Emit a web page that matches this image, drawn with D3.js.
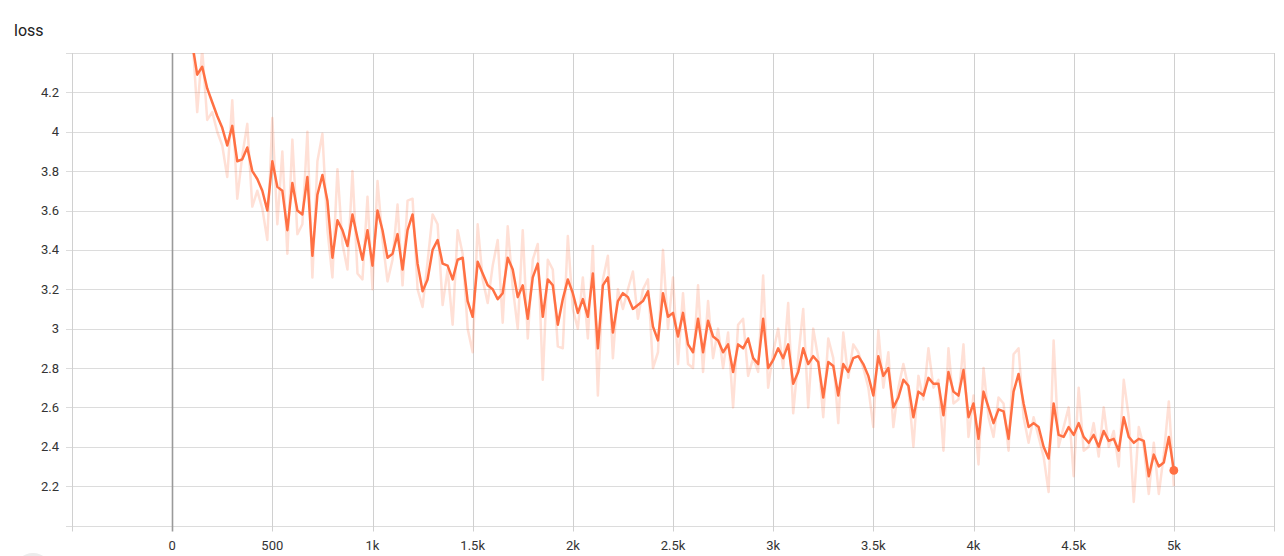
<!DOCTYPE html>
<html>
<head>
<meta charset="utf-8">
<script src="https://cdn.jsdelivr.net/npm/d3@7/dist/d3.min.js"></script>
<style>
  html, body { margin: 0; padding: 0; background: #fff; }
  svg { display: block; font-family: Roboto, "Noto Sans", sans-serif; }
</style>
</head>
<body>
<svg id="chart" width="1284" height="556"></svg>
<script>
// ---- data ----
const title = "loss";
const stepStart = 100, stepEnd = 5000, stepEvery = 25;
const smoothed = [
4.45,4.29,4.33,4.22,4.15,4.08,4.02,3.93,4.03,3.85,3.86,3.92,3.80,3.76,3.70,3.60,
3.85,3.72,3.70,3.50,3.74,3.60,3.58,3.77,3.37,3.68,3.78,3.65,3.36,3.55,3.50,3.42,
3.58,3.46,3.35,3.50,3.32,3.60,3.50,3.36,3.38,3.48,3.30,3.50,3.58,3.33,3.19,3.25,
3.40,3.45,3.33,3.32,3.25,3.35,3.36,3.14,3.06,3.34,3.28,3.22,3.20,3.15,3.18,3.36,
3.30,3.16,3.22,3.05,3.26,3.33,3.06,3.25,3.22,3.02,3.15,3.25,3.18,3.08,3.15,3.06,
3.28,2.90,3.22,3.26,2.98,3.14,3.18,3.16,3.10,3.12,3.14,3.19,3.01,2.94,3.18,3.06,
3.08,2.96,3.08,2.92,2.88,3.05,2.88,3.04,2.96,2.94,2.88,2.92,2.78,2.92,2.90,2.95,
2.85,2.82,3.05,2.80,2.84,2.90,2.85,2.92,2.72,2.78,2.90,2.82,2.86,2.83,2.65,2.83,
2.81,2.66,2.82,2.78,2.85,2.86,2.82,2.76,2.66,2.86,2.76,2.80,2.60,2.65,2.74,2.71,
2.55,2.68,2.66,2.75,2.72,2.72,2.56,2.78,2.68,2.66,2.79,2.55,2.62,2.44,2.68,2.60,
2.52,2.59,2.58,2.44,2.68,2.77,2.62,2.50,2.52,2.50,2.40,2.34,2.62,2.46,2.45,2.50,
2.46,2.52,2.45,2.42,2.46,2.40,2.48,2.43,2.44,2.38,2.55,2.45,2.42,2.44,2.43,2.25,
2.36,2.30,2.32,2.45,2.28
];
const raw = [
4.50,4.10,4.42,4.06,4.10,4.00,3.93,3.77,4.16,3.66,3.88,4.04,3.62,3.70,3.61,3.45,
4.07,3.53,3.90,3.38,3.96,3.48,3.53,4.00,3.26,3.85,3.99,3.50,3.26,3.81,3.43,3.30,
3.80,3.28,3.25,3.67,3.20,3.75,3.45,3.24,3.35,3.63,3.22,3.65,3.66,3.20,3.11,3.34,
3.58,3.53,3.12,3.30,3.02,3.50,3.38,3.00,2.88,3.53,3.25,3.13,3.32,3.45,3.03,3.52,
3.21,3.00,3.50,2.95,3.35,3.43,2.74,3.35,3.30,2.91,2.90,3.47,3.10,3.00,3.26,2.95,
3.42,2.66,3.25,3.37,2.85,3.20,3.10,3.20,3.29,3.05,3.20,3.25,2.80,2.88,3.40,3.00,
3.26,2.82,3.18,2.82,2.80,3.22,2.78,3.14,2.85,3.00,2.80,2.98,2.60,3.02,3.05,2.76,
2.85,2.78,3.27,2.70,2.88,3.00,2.80,3.13,2.57,2.85,3.10,2.60,3.00,2.85,2.55,2.95,
2.85,2.52,2.98,2.75,2.92,2.88,2.80,2.70,2.50,2.99,2.70,2.88,2.50,2.70,2.82,2.70,
2.40,2.76,2.64,2.90,2.70,2.74,2.38,2.90,2.62,2.64,2.92,2.45,2.66,2.31,2.80,2.55,
2.45,2.65,2.62,2.38,2.87,2.90,2.55,2.42,2.55,2.45,2.35,2.17,2.94,2.40,2.50,2.60,
2.25,2.70,2.38,2.40,2.52,2.35,2.60,2.40,2.48,2.30,2.74,2.55,2.12,2.50,2.40,2.16,
2.42,2.16,2.36,2.63,2.20
];
const xTicks = [-500,0,500,1000,1500,2000,2500,3000,3500,4000,4500,5000,5500];
const xTickLabels = ["","0","500","1k","1.5k","2k","2.5k","3k","3.5k","4k","4.5k","5k",""];
const yTicks = [2.0,2.2,2.4,2.6,2.8,3.0,3.2,3.4,3.6,3.8,4.0,4.2,4.4];
const yTickLabels = ["","2.2","2.4","2.6","2.8","3","3.2","3.4","3.6","3.8","4","4.2",""];

// ---- drawing ----
(function () {
const steps = d3.range(stepStart, stepEnd + 1, stepEvery);
const n = Math.min(steps.length, smoothed.length, raw.length);
const rawPts = d3.range(n).map(i => ({s: steps[i], v: raw[i]}));
const smPts = d3.range(n).map(i => ({s: steps[i], v: smoothed[i]}));

const svg = d3.select("#chart");
const pLeft = 72, pRight = 1274, pTop = 53, pBottom = 525.5;
const x = d3.scaleLinear().domain([-500, 5500]).range([pLeft, pRight]);
const y = d3.scaleLinear().domain([2.0, 4.4]).range([pBottom, pTop]);

svg.append("text").attr("x", 14).attr("y", 36)
  .attr("font-size", 16).attr("fill", "#212121").text(title);

// horizontal grid
svg.append("g").selectAll("line").data(yTicks).join("line")
  .attr("x1", 66).attr("x2", pRight)
  .attr("y1", d => Math.round(y(d)) + 0.5).attr("y2", d => Math.round(y(d)) + 0.5)
  .attr("stroke", "#dcdcdc").attr("stroke-width", 1);

// vertical grid
svg.append("g").selectAll("line").data(xTicks).join("line")
  .attr("x1", d => Math.round(x(d)) + 0.5).attr("x2", d => Math.round(x(d)) + 0.5)
  .attr("y1", pTop).attr("y2", pBottom + 6)
  .attr("stroke", d => d === 0 ? "#9a9a9a" : "#d0d0d0")
  .attr("stroke-width", d => d === 0 ? 1.6 : 1);

// y labels
svg.append("g").selectAll("text").data(yTicks.map((t, i) => ({t, l: yTickLabels[i]})).filter(d => d.l))
  .join("text")
  .attr("x", 59).attr("y", d => y(d.t) + 4.5)
  .attr("text-anchor", "end").attr("font-size", 13).attr("fill", "#333")
  .text(d => d.l);

// x labels
svg.append("g").selectAll("text").data(xTicks.map((t, i) => ({t, l: xTickLabels[i]})).filter(d => d.l))
  .join("text")
  .attr("x", d => x(d.t)).attr("y", 550)
  .attr("text-anchor", "middle").attr("font-size", 13).attr("fill", "#333")
  .text(d => d.l);

// clip
svg.append("defs").append("clipPath").attr("id", "plotclip")
  .append("rect").attr("x", pLeft).attr("y", pTop).attr("width", pRight - pLeft).attr("height", pBottom - pTop);

const line = d3.line().x(d => x(d.s)).y(d => y(d.v));
const g = svg.append("g").attr("clip-path", "url(#plotclip)");
g.append("path").datum(rawPts).attr("d", line)
  .attr("fill", "none").attr("stroke", "#ff7043").attr("stroke-opacity", 0.22)
  .attr("stroke-width", 2.5).attr("stroke-linejoin", "round");
g.append("path").datum(smPts).attr("d", line)
  .attr("fill", "none").attr("stroke", "#ff7043")
  .attr("stroke-width", 2.5).attr("stroke-linejoin", "round");

const last = smPts[n - 1];
svg.append("circle").attr("cx", x(last.s)).attr("cy", y(last.v)).attr("r", 4.4)
  .attr("fill", "#ff7043");

// partially visible round button at bottom-left
svg.append("circle").attr("cx", 33).attr("cy", 572).attr("r", 19).attr("fill", "#ececec");
})();
</script>
</body>
</html>
